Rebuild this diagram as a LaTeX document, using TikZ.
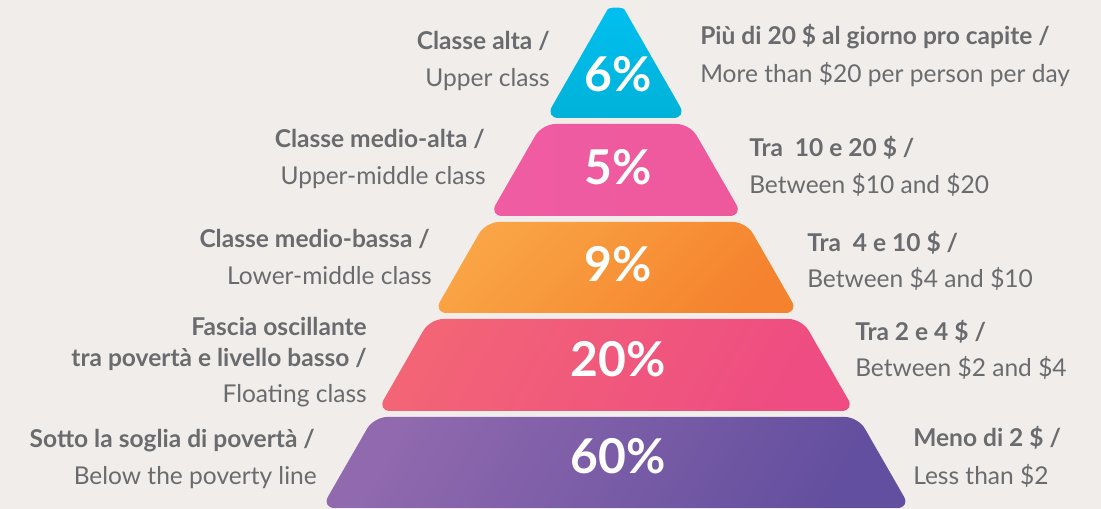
\documentclass[tikz,border=0pt]{standalone}
\usepackage{fontspec}
\setmainfont{Lato}
\usetikzlibrary{positioning}

\definecolor{bgcol}{HTML}{F0EDEA}
\definecolor{labgrey}{HTML}{6A6B6E}
\definecolor{cyanA}{HTML}{00BFF0}
\definecolor{cyanB}{HTML}{00B2D8}
\definecolor{pinkA}{HTML}{F05CA2}
\definecolor{pinkB}{HTML}{EE599C}
\definecolor{orangeA}{HTML}{F9A545}
\definecolor{orangeB}{HTML}{F5822E}
\definecolor{coralA}{HTML}{F26476}
\definecolor{coralB}{HTML}{EE4C82}
\definecolor{purpleA}{HTML}{9069AE}
\definecolor{purpleB}{HTML}{634F9F}

\begin{document}
\begin{tikzpicture}[
  x=0.75pt, y=-0.75pt,
  tier/.style={rounded corners=10pt},
  pct/.style={text=white, font=\fontsize{36}{36}\selectfont\bfseries, anchor=base, inner sep=0pt},
  head/.style={text=labgrey, font=\fontsize{18.4}{22}\selectfont\bfseries, inner sep=0pt},
  sub/.style={text=labgrey, font=\fontsize{18.4}{22}\selectfont, inner sep=0pt}
]
\useasboundingbox (0,0) rectangle (1101,509);
\fill[bgcol] (0,0) rectangle (1101,509);

% tiers
\shade[tier, top color=cyanA, bottom color=cyanB]
  (616,118) -- (545.4,118) -- (601,21)
  .. controls (609,7) and (623,7) .. (631,21)
  -- (686.6,118) -- cycle;
\shade[tier, left color=pinkA, right color=pinkB]
  (616,124) -- (690,124) -- (742.9,216) -- (489.1,216) -- (542,124) -- cycle;
\shade[tier, top color=orangeA, bottom color=orangeB, shading angle=45]
  (616,222) -- (746.3,222) -- (798.5,313) -- (433.5,313) -- (485.7,222) -- cycle;
\shade[tier, top color=coralA, bottom color=coralB, shading angle=60]
  (616,319) -- (802,319) -- (854.8,411) -- (377.2,411) -- (430,319) -- cycle;
\shade[tier, top color=purpleA, bottom color=purpleB, shading angle=60]
  (616,417) -- (858.2,417) -- (910.5,508) -- (321.5,508) -- (373.8,417) -- cycle;

% percentages
\node[pct] (p6) at (618,92) {6\%};
\node[pct] (p5) at (618,185) {5\%};
\node[pct] (p9) at (618,282) {9\%};
\node[pct] (p20) at (618,377) {20\%};
\node[pct] (p60) at (618,474) {60\%};

% left labels
\node[head, anchor=base east] (alta) at (550,50) {Classe alta /};
\node[sub, anchor=base east] (altaen) at (550,87) {Upper class};
\node[head, anchor=base east] (medalta) at (485,148) {Classe medio-alta /};
\node[sub, anchor=base east] (medaltaen) at (486,185) {Upper-middle class};
\node[head, anchor=base east] (medbassa) at (430,248) {Classe medio-bassa /};
\node[sub, anchor=base east] (medbassaen) at (432,285) {Lower-middle class};
\node[head, anchor=base east] (fascia) at (367,336) {Fascia oscillante};
\node[head, anchor=base east] (fascia2) at (367,367) {tra povertà e livello basso /};
\node[sub, anchor=base east] (fasciaen) at (367,403) {Floating class};
\node[head, anchor=base east] (sotto) at (315,448) {Sotto la soglia di povertà /};
\node[sub, anchor=base east] (sottoen) at (317,485) {Below the poverty line};

% right labels
\node[head, anchor=base west] (piu) at (700,45) {Più di 20 \$ al giorno pro capite /};
\node[sub, anchor=base west] (piuen) at (700,83) {More than \$20 per person per day};
\node[head, anchor=base west] (tra10) at (749,157) {Tra~~10 e 20 \$ /};
\node[sub, anchor=base west] (tra10en) at (749,194) {Between \$10 and \$20};
\node[head, anchor=base west] (tra4) at (807,252) {Tra~~4 e 10 \$ /};
\node[sub, anchor=base west] (tra4en) at (807,288) {Between \$4 and \$10};
\node[head, anchor=base west] (tra2) at (855,341) {Tra 2 e 4 \$ /};
\node[sub, anchor=base west] (tra2en) at (855,377) {Between \$2 and \$4};
\node[head, anchor=base west] (meno) at (913,447) {Meno di 2 \$ /};
\node[sub, anchor=base west] (menoen) at (913,485) {Less than \$2};

\end{tikzpicture}
\end{document}
